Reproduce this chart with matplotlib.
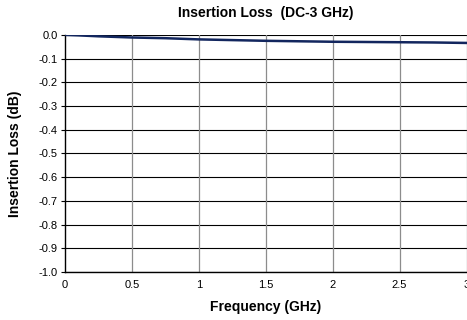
import matplotlib
matplotlib.use("Agg")
import matplotlib.pyplot as plt
import numpy as np

plt.rcParams["font.family"] = ["Liberation Sans", "DejaVu Sans"]

# Data
freq_ghz = [0.0, 0.1, 0.25, 0.5, 0.75, 1.0, 1.25, 1.5, 1.75, 2.0, 2.25, 2.5, 2.75, 3.0]
loss_db = [0.0, -0.002, -0.006, -0.011, -0.014, -0.019, -0.022, -0.025, -0.027, -0.029, -0.030, -0.031, -0.032, -0.034]
x_ticks = [0, 0.5, 1, 1.5, 2, 2.5, 3]
x_tick_labels = ["0", "0.5", "1", "1.5", "2", "2.5", "3"]
y_ticks = np.round(np.arange(-1.0, 0.01, 0.1), 1)
y_tick_labels = [f"{abs(v):.1f}" if v == 0 else f"{v:.1f}" for v in y_ticks]

fig = plt.figure(figsize=(4.67, 3.2), dpi=100)
ax = fig.add_axes([0.139, 0.15, 0.860, 0.741])

ax.plot(freq_ghz, loss_db, color="#12265e", linewidth=1.8, zorder=3)

ax.set_xlim(0, 3)
ax.set_ylim(-1.0, 0.0)
ax.set_xticks(x_ticks)
ax.set_xticklabels(x_tick_labels)
ax.set_yticks(y_ticks)
ax.set_yticklabels(y_tick_labels)
ax.tick_params(axis="y", labelsize=8, length=3, width=0.8, color="black", pad=2)
ax.tick_params(axis="x", labelsize=8, length=0, pad=6)

for y in y_ticks:
    ax.axhline(y, color="black", linewidth=0.8, zorder=1)
for x in x_ticks[1:]:
    ax.axvline(x, color="#8c8c8c", linewidth=0.9, zorder=1)

for side in ["top", "right"]:
    ax.spines[side].set_visible(False)
ax.spines["left"].set_linewidth(1.0)
ax.spines["bottom"].set_linewidth(1.0)

ax.set_title("Insertion Loss  (DC-3 GHz)", fontsize=10, fontweight="bold", pad=13)
ax.set_xlabel("Frequency (GHz)", fontsize=10, fontweight="bold", labelpad=7)
ax.set_ylabel("Insertion Loss (dB)", fontsize=10, fontweight="bold", labelpad=12)

fig.savefig("out.png", dpi=100)
